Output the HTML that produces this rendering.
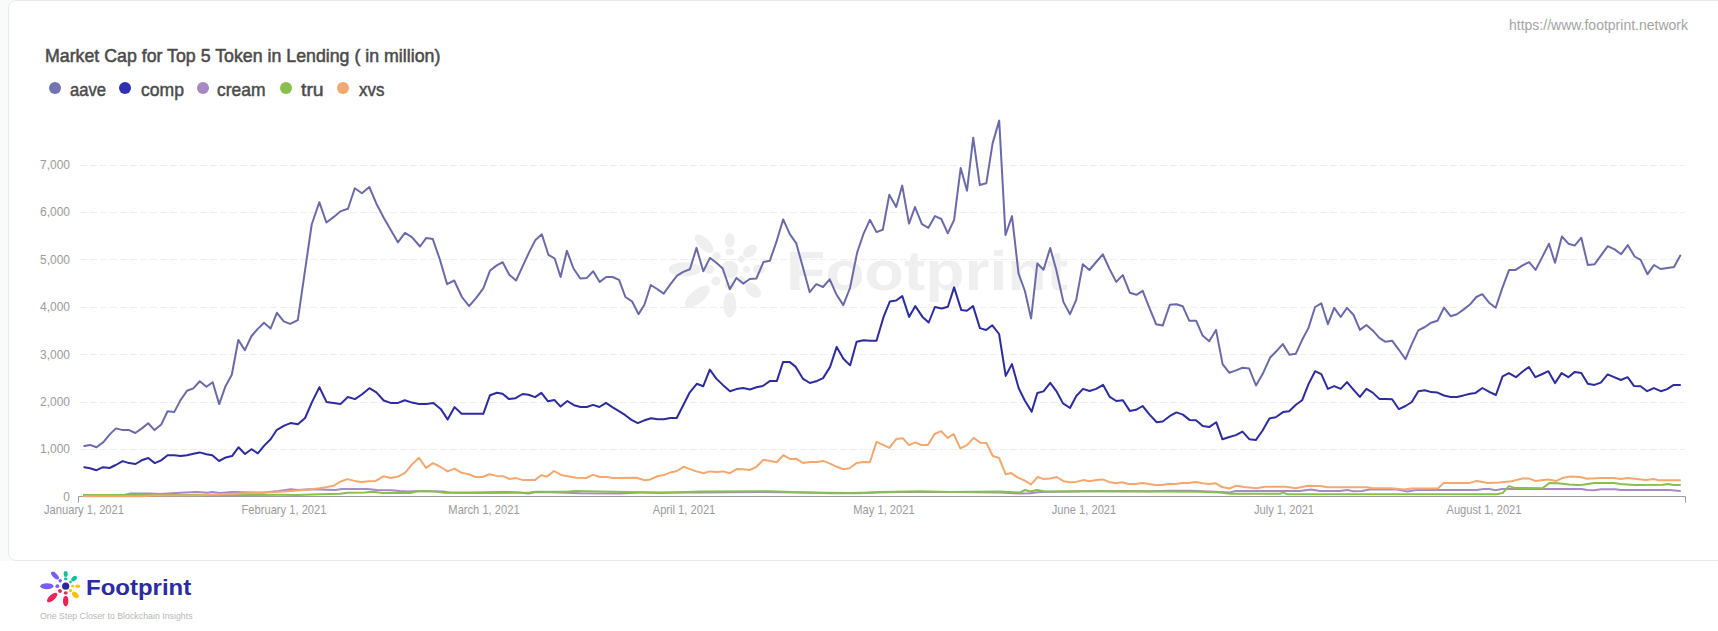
<!DOCTYPE html>
<html><head><meta charset="utf-8">
<style>
*{margin:0;padding:0;box-sizing:border-box}
html,body{width:1718px;height:631px;overflow:hidden;background:#fff;font-family:"Liberation Sans",sans-serif}
.bg{position:absolute;left:0;top:0;width:1718px;height:561px;background:#f9fbfb}
.card{position:absolute;left:8px;top:0;width:1730px;height:561px;border:1px solid #e9ebeb;border-radius:8px;background:#fff}
.url{position:absolute;left:1509px;top:17.2px;font-size:14px;color:#a4a4a4;white-space:nowrap;line-height:16px}
.title{position:absolute;left:44.6px;top:45.2px;font-size:19px;color:#4b4b4b;white-space:nowrap;line-height:22px;-webkit-text-stroke:0.55px #4b4b4b;transform:scaleX(0.935);transform-origin:0 0}
.leg{position:absolute;top:79.8px;font-size:19px;color:#4b4b4b;white-space:nowrap;line-height:20px;-webkit-text-stroke:0.5px #4b4b4b;transform-origin:0 0}
.dot{position:absolute;top:82px;width:12px;height:12px;border-radius:50%}
svg{position:absolute;left:0;top:0}
.foot{position:absolute;left:86px;top:575px;font-size:22px;font-weight:bold;color:#2b2ba3;white-space:nowrap;line-height:26px;transform:scaleX(1.09);transform-origin:0 0}
.tag{position:absolute;left:40px;top:611px;font-size:8.8px;color:#b8b8b8;white-space:nowrap;line-height:10px}
</style></head><body>
<div class="bg"></div>
<div class="card"></div>
<div class="url">https://www.footprint.network</div>
<div class="title">Market Cap for Top 5 Token in Lending ( in million)</div>
<div class="dot" style="left:48.7px;background:#7373b3"></div><div class="leg" style="left:69.8px;transform:scaleX(0.874)">aave</div>
<div class="dot" style="left:119.4px;background:#3030b0"></div><div class="leg" style="left:140.5px;transform:scaleX(0.925)">comp</div>
<div class="dot" style="left:196.9px;background:#a989c5"></div><div class="leg" style="left:217.4px;transform:scaleX(0.92)">cream</div>
<div class="dot" style="left:279.5px;background:#88bf4d"></div><div class="leg" style="left:300.6px;transform:scaleX(1.02)">tru</div>
<div class="dot" style="left:337.4px;background:#f2a86f"></div><div class="leg" style="left:358.6px;transform:scaleX(0.89)">xvs</div>
<svg width="1718" height="631" viewBox="0 0 1718 631">
<defs>
<g id="pt"><g transform="rotate(0)"><ellipse cx="0" cy="-12.1" rx="2.05" ry="3.0"/><ellipse cx="0" cy="-7.3" rx="1.8" ry="1.4"/></g><g transform="rotate(48)"><ellipse cx="0" cy="-11.3" rx="2.2" ry="3.3"/><ellipse cx="0" cy="-6.4" rx="1.4" ry="1.4"/></g></g>
<g id="py"><g transform="rotate(90)"><ellipse cx="0" cy="-12.1" rx="1.8" ry="2.4"/><ellipse cx="0" cy="-7.0" rx="1.4" ry="1.4"/></g><g transform="rotate(132)"><ellipse cx="0" cy="-13.0" rx="2.5" ry="3.9"/><ellipse cx="0" cy="-6.5" rx="1.6" ry="1.6"/></g></g>
<g id="pr"><g transform="rotate(180)"><ellipse cx="0" cy="-14.8" rx="2.7" ry="5.2"/><ellipse cx="0" cy="-6.7" rx="2.0" ry="1.6"/></g><g transform="rotate(230)"><ellipse cx="0" cy="-17.6" rx="2.8" ry="6.4"/><ellipse cx="0" cy="-7.5" rx="1.9" ry="1.9"/></g></g>
<g id="pp"><g transform="rotate(270)"><ellipse cx="0" cy="-18.8" rx="3.0" ry="6.6"/><ellipse cx="0" cy="-8.4" rx="1.9" ry="1.9"/></g><g transform="rotate(315)"><ellipse cx="0" cy="-15.1" rx="2.3" ry="5.0"/><ellipse cx="0" cy="-7.8" rx="1.7" ry="1.7"/></g></g>
<g id="flower"><use href="#pt"/><use href="#py"/><use href="#pr"/><use href="#pp"/><circle cx="0" cy="0" r="3.6"/></g>
</defs>
<!-- watermark -->
<g fill="#efefef"><use href="#flower" transform="translate(729.8 269.4) scale(2.4)"/></g>
<text x="786" y="290.3" font-size="55" font-weight="bold" fill="#efefef" font-family="Liberation Sans" textLength="282" lengthAdjust="spacingAndGlyphs">Footprint</text>
<g stroke="#eeeeee" stroke-width="1" stroke-dasharray="7 3"><line x1="80" y1="449.5" x2="1685" y2="449.5"/><line x1="80" y1="402.5" x2="1685" y2="402.5"/><line x1="80" y1="354.5" x2="1685" y2="354.5"/><line x1="80" y1="307.5" x2="1685" y2="307.5"/><line x1="80" y1="259.5" x2="1685" y2="259.5"/><line x1="80" y1="212.5" x2="1685" y2="212.5"/><line x1="80" y1="165.5" x2="1685" y2="165.5"/></g>
<g font-size="12" fill="#9b9b9b" text-anchor="end" font-family="Liberation Sans"><text x="70" y="500.8">0</text><text x="70" y="453.4">1,000</text><text x="70" y="406.0">2,000</text><text x="70" y="358.5">3,000</text><text x="70" y="311.1">4,000</text><text x="70" y="263.7">5,000</text><text x="70" y="216.3">6,000</text><text x="70" y="168.9">7,000</text></g>
<g font-size="12" fill="#9b9b9b" text-anchor="middle" font-family="Liberation Sans"><text x="84" y="514.5" transform="translate(84 0) scale(0.93 1) translate(-84 0)">January 1, 2021</text><text x="284" y="514.5" transform="translate(284 0) scale(0.93 1) translate(-284 0)">February 1, 2021</text><text x="484" y="514.5" transform="translate(484 0) scale(0.93 1) translate(-484 0)">March 1, 2021</text><text x="684" y="514.5" transform="translate(684 0) scale(0.93 1) translate(-684 0)">April 1, 2021</text><text x="884" y="514.5" transform="translate(884 0) scale(0.93 1) translate(-884 0)">May 1, 2021</text><text x="1084" y="514.5" transform="translate(1084 0) scale(0.93 1) translate(-1084 0)">June 1, 2021</text><text x="1284" y="514.5" transform="translate(1284 0) scale(0.93 1) translate(-1284 0)">July 1, 2021</text><text x="1484" y="514.5" transform="translate(1484 0) scale(0.93 1) translate(-1484 0)">August 1, 2021</text></g>
<path d="M78.5 502.5V496.5H1685.5V502.5" fill="none" stroke="#999" stroke-width="1"/>
<g fill="none" stroke-width="2" stroke-linejoin="round" stroke-linecap="round">
<polyline stroke="#6a6aa8" points="84.3,446.1 90.0,444.9 96.5,447.2 103.4,442.1 110.0,434.1 115.9,428.4 122.8,430.1 129.1,430.1 135.3,433.0 141.9,428.4 148.2,423.3 154.5,430.1 161.3,424.4 167.6,411.3 174.2,412.1 180.4,400.4 187.0,390.7 193.3,388.4 199.8,381.3 206.4,386.7 212.7,382.2 219.2,404.1 225.5,386.2 231.8,374.8 238.3,339.9 244.9,350.2 251.2,336.5 257.5,329.1 264.0,322.8 270.6,328.5 276.9,312.8 283.8,321.4 290.1,323.9 297.8,320.1 311.7,224.5 319.3,202.2 326.4,222.5 333.8,216.9 340.9,211.1 348,208.8 354.8,188.3 361.9,193.3 369.3,187 376.4,203.7 384,218.2 390.8,230.1 397.9,242.3 405,232.9 411.9,237.2 420,246.5 426.3,237.9 432.8,239.1 440,259.9 447.1,284.2 454.2,280.5 461.9,297 469.1,306.1 476.2,297.9 483.3,288.4 489.9,270.8 496.4,265.6 502.7,262.2 509.3,274.8 516.1,280.5 522.7,266.2 529.3,251.9 535.5,239.9 541.8,234.2 548.4,254.8 554.7,258.5 560.6,277 566.9,250.8 573.5,268.5 580.3,278.5 586.9,277.9 593.2,271.3 599.7,281.9 606.3,277 612.6,277 619.1,279.9 625.4,297 632,301.3 638.5,314.1 644.3,305 650.8,285 657.1,289 663.7,293.6 670.5,284.2 677.1,275.6 683.3,271.9 689.9,269.3 696.5,247.9 703.3,271.3 709.9,257.9 716.4,262.8 722.7,268.5 729.8,289.3 736.4,277.9 743.3,283.6 749.8,279 756.4,278.5 763.5,261.9 769.8,260.8 776.3,242.2 783.2,219.4 789.8,234.2 796.3,243.4 803.2,268.5 809.7,292.2 816.3,284.2 823.1,287 829.7,279.3 836.3,294.2 843.3,305.1 850,288 857.1,252.7 863.7,233.3 869.9,219.8 876.5,232.1 882.8,229.8 889.3,194.7 896.2,207 902.2,185.6 909,223.6 915,207 921.9,224.1 928.4,227.8 935,216.1 941.3,219 947.8,233.3 954.1,219.8 960.7,167.9 967,190.7 973.2,137.7 979.8,185 986.3,183.3 992.6,143.4 999.2,120.6 1005.5,235 1012,216.1 1018.5,273.3 1024.9,291 1031.1,318.5 1037.3,263.5 1043.5,269.7 1050.2,248 1056.3,270 1063.4,301.9 1070,314.2 1076.2,299.9 1082.8,264.2 1089.4,270 1096.2,262 1102.8,254.3 1109.3,268.5 1116.2,281.9 1122.8,275.1 1129.9,292.8 1136.4,294.8 1142.7,290.8 1149.3,307.6 1156.1,324.2 1162.7,325.6 1169.8,304.8 1176.4,304.2 1182.7,306.2 1189.2,320.7 1196.1,320.7 1202.6,335.6 1209.2,341.3 1216,329.9 1222.6,364.1 1229.2,372.7 1236,370.4 1242.6,367.8 1249.1,368.4 1256,385.5 1262.6,374.1 1270,357.8 1276.3,351.3 1282.8,344.1 1289.4,354.7 1295.7,353.8 1302.2,339.8 1308.5,327.9 1315.1,307 1321.3,303.3 1327.9,324.2 1334.2,307.9 1340.7,317 1347,307.9 1353.6,315 1359.9,329.9 1366.4,325 1372.7,330.4 1379.3,337.8 1385.5,341.8 1392.1,340.7 1398.9,349.8 1405.5,359.2 1411.8,344.1 1418.3,330.4 1424.9,327 1431.2,322.7 1437.5,320.7 1444,307.6 1450.6,316.2 1456.9,314.2 1463.1,309.9 1469.7,304.8 1476.3,297 1482.3,294.2 1489.1,302.7 1495.7,307.8 1502.2,288.4 1509.1,269.9 1515.6,269.9 1522.2,265.6 1529.1,262.2 1535.6,269.9 1542.2,257.1 1549,243.7 1555,262.8 1561.9,236.5 1568.4,243.7 1574.7,245.6 1581.3,237.7 1587.8,265 1594.7,264.2 1601.2,255.1 1607.8,246.2 1614.6,249.4 1621.2,254.2 1627.8,245.1 1634.6,256.5 1640.6,259.9 1647.5,274.2 1654,265 1660.6,269 1667.4,267.9 1674,267 1680.3,255.6"/>
<polyline stroke="#2c2c9e" points="84.3,467.2 90,468.3 96.5,470.2 103,467.2 109.5,468 115.8,465 122.7,461.1 129,463.1 135.5,464 141.7,460.3 148.2,458 154.8,463.1 161.1,460.4 167.6,455.2 174.3,455.2 180.5,456.1 187,455.3 193.4,453.7 199.7,452.4 206.4,454.2 212.3,455.3 219.1,461 225.8,457.4 232,456.1 238.5,447.3 245,454 251.4,449.2 257.8,453.3 264.2,445.6 270.6,439.2 276.9,429.8 284.2,425.7 290.5,423.1 297.9,424.3 305.1,418 312.1,401.9 319.4,387.2 326.5,401.9 333.5,402.9 340.5,404.1 347.8,397 355,399.1 362.1,394.2 369.4,388.2 376.4,392.4 383.7,400.5 390.6,402.9 398,402.9 404.8,400.2 412,402.6 419,404 426.3,404 433.4,402.9 440.7,408.9 447.6,419.4 454.6,407.1 461.6,413.8 468.9,413.8 476,413.8 483.3,413.8 490,395.2 497,392.8 502.5,393.8 509.1,399.1 515.6,398.2 522.6,394 528.6,394.7 535.1,397.1 541.4,392.9 548,401.3 554.4,399.9 560.6,406.6 567.3,401 574,405.2 580.5,407 586.8,407 593.1,404.9 599.4,407 606,402.8 612.7,407.3 619,411.2 625.3,415.2 631.5,419.9 637.8,423.1 644.4,420.3 651.1,418.2 657.7,419.2 663.7,419.2 670.4,418 676.7,418 683.2,405.2 689.8,392.3 696.8,383.8 703.2,386.3 709.8,369.6 716.3,378.6 722.8,384.9 730,391.2 736.3,389.1 743.2,388.1 749.9,389.5 756.5,387.2 762.8,386 769.8,381.1 776.8,381.1 783.1,361.9 789.5,361.9 795.8,366.9 802.8,378.6 809.8,383 816.1,381.3 823.1,378.1 830.1,366.9 836.7,346.9 843.4,358.7 850.1,365.4 856.6,341.8 863.5,340.2 870.3,340.8 876.5,340.8 883.6,316.9 889.9,301.4 896.1,300.5 902.3,296.1 909.1,316.9 915.3,306.1 922.5,316.9 928.7,322.5 934.9,307 941.7,308.5 947.9,306.7 954.1,287.4 961.3,310.1 966.8,310.7 973.1,306.1 979.9,328.1 986.1,330 992.3,325.3 999.1,334 1005.7,375.9 1011.9,364.1 1018.7,388.3 1024.9,400.8 1031.7,411.6 1037.3,393 1043.5,391.4 1050.2,382.8 1056.2,390.8 1063,403.4 1070,408 1076.3,396 1083,388.9 1089.5,391 1096.2,388.9 1103,384.8 1109.8,396.9 1116.3,401 1122.9,400.3 1129.8,410.9 1136,409.8 1142.6,406 1149.6,414.6 1156.7,422.2 1162.7,421.5 1169.6,416.2 1176.4,412.4 1182.9,414.6 1189.5,419.9 1196,420.2 1202.8,426 1209.2,427.1 1216.2,422.2 1222.5,439.3 1229.3,437 1235.8,435.1 1242.5,431.6 1249.5,439.3 1255.8,440.1 1262.6,430.5 1269.4,418.4 1275.8,417.2 1283,412.1 1289.1,411.2 1295.9,404.8 1302.1,400.3 1308.5,384.1 1315.1,371.2 1321.3,374.1 1327.9,388.9 1334.2,386.1 1340.7,388.9 1347,382.1 1353.6,389.8 1359.9,396.9 1366.4,388.9 1372.7,392.6 1379.3,398.9 1385.5,398.9 1392.1,399.2 1398.9,409.2 1405.5,406 1411.8,402 1418.3,391.2 1424.9,390.3 1431.2,392.1 1437.5,392.6 1444,395.5 1450.6,396.9 1456.9,396.9 1463.5,395.4 1470.2,393.7 1475.6,392.9 1482.4,388 1489.3,391.9 1495.9,395 1502.6,376.3 1508.9,373.1 1515.9,377.2 1522.4,371.7 1528.9,367 1535.4,377.2 1542.4,374 1548.4,371.2 1555,383.1 1561.6,373.1 1568.3,377.2 1574.8,371.9 1581.3,373.1 1587.8,383.8 1594.4,384.9 1600.8,382.6 1607.7,374.4 1614.1,377.2 1620.9,380 1627.6,377.2 1633.9,385.9 1640.6,386.3 1647.2,391.2 1653.8,388.1 1660.8,391.2 1667.2,389.1 1673.7,384.9 1680,384.9"/>
<polyline stroke="#a989c5" points="84,495 124,495 130,493.6 150,493.4 160,494 180.6,492.8 196,492 208,492.8 212,492.1 220,493 232.3,492 253.2,492.4 262,492.8 278.4,491 291,489.2 298,489.9 309,489.2 320,489.6 335,490 342.1,488.9 367.3,488.9 377,490 391,490.3 400,491 407.8,491.4 419,491 442.7,491.4 450,492.4 470.7,492.4 505.6,492 519,492.4 528,493.4 536,492 560,492.5 580,493.3 620,493.5 640,492.5 700,492.5 760,492 800,492.5 850,493 900,492 960,492 1000,492.5 1020,493.5 1030,493.3 1040,492 1100,491 1150,491.3 1170,490.8 1190,490.8 1210,491.5 1230,492.4 1235.6,491 1300,491 1311,489.6 1320,491 1340,491 1347.4,489.9 1353,491.2 1362,491 1369.7,489.6 1397,489.6 1407.4,491.4 1416,489.9 1476.8,489.9 1483.7,488.9 1489.3,488.9 1495.6,490.3 1501.9,488.9 1581.5,488.9 1587.1,489.9 1594.1,490.3 1601.1,489.2 1615.1,489.2 1620.7,490 1669.6,490 1680,491"/>
<polyline stroke="#88bf4d" points="84,494.9 250,495.1 280,494.8 296.5,494.9 320,494.2 340,493.8 347.7,492.8 365,492.4 372.9,491.7 382.6,493.1 410,493 419,491 436,491.4 444.1,492.8 478,493.1 530,492.5 536.3,491.7 567,491.8 575,491 600,491.5 640,492.3 660,493 700,491.5 770,491.3 800,492.3 830,493.3 860,493.3 880,492 920,491.2 950,492 1000,491.5 1020,492.5 1025,490 1030,491.5 1037,490 1045,491.5 1100,491.3 1200,491.8 1220,492.5 1230,493.8 1280,493.8 1283,492.4 1287,494.2 1496.3,494.2 1502.6,493.1 1508.9,486.1 1514.5,487.9 1542.4,488.2 1549.4,483 1557.8,483.3 1569,484.4 1577.4,485 1582.9,484.7 1594.1,483 1613.7,483 1620.7,484 1634.6,485 1662.6,484.7 1668.2,484 1673.7,485 1680,485"/>
<polyline stroke="#f2a86f" points="84,496.2 143,496.2 152,495.4 200,495.2 254.6,492.8 275.6,492 291,491 309.1,489.6 319.8,488.2 326.8,487.1 333.7,485.7 340.7,481.5 347.4,479.1 354.4,480.9 361.7,481.9 368.7,481.2 375.7,480.9 383.3,476.3 390.7,478 398,476.6 405,472.8 412,464.4 419,457.7 426,467.9 432.9,463.1 439.9,466.5 447.6,471.4 454.6,468.6 461.6,472.8 468.6,474.2 475.5,477 482.5,477 489.5,474.2 496.5,475.9 503.5,476.3 509.8,479.1 516.1,478.1 523,480.1 534.9,480.1 541.2,475.2 547,476.6 554,471 561,474.9 567.9,476.3 576.3,477.7 586.1,478.1 592.8,474.9 600.1,477 607.1,477 612.6,478 636.4,477.7 644.8,480.2 650.4,479.4 658,476 664.3,474.9 670.6,472.4 676.9,471 683.6,466.8 690.2,469.1 696.5,471.4 703.5,473.2 709.7,471.4 716.7,472.1 723,471.4 730,473.2 737,468.9 743.3,469.3 749.6,470 756.5,466.8 763.5,459.8 770.3,461 776.7,462.2 783.3,455.2 790.3,459.1 796.5,458.8 803.1,463 809.8,461.9 816.8,461.9 823.1,460.9 830.1,463.6 836.8,466.8 843.3,469.2 849.6,468.2 856.6,463 863.6,461.9 869.9,462.3 876.5,441.9 883.2,444.9 889.4,447.9 896.4,438.9 902.7,438.2 909,445.1 915.3,442.4 921.6,445.1 927.9,445.1 934.6,434 941.1,431.2 947.7,437.9 953.7,434 960.3,448.4 967,445.1 973.7,437.9 980.3,442.8 986.5,443.1 992.8,456 999.1,458 1005.7,474.3 1011.2,473.1 1017.5,477.4 1023.8,480.2 1031,484.4 1037.7,477 1044,479.1 1050.3,478.4 1056.6,477 1063.6,481.2 1069.9,482.2 1076.1,481.9 1083.1,480.1 1089.4,481.2 1096.4,480.1 1102.7,479.4 1109,481.9 1116,483.3 1122.2,482.2 1128.5,484 1135.5,484 1142.5,482.9 1148.8,484 1155.1,485 1162.1,485 1168.3,484 1175.3,484 1182.3,482.9 1188.6,482.9 1195.6,481.9 1202.6,483.3 1208.9,484 1215.8,483.3 1222.1,487.1 1229.1,488.5 1236.3,485.8 1244,487 1256.5,488.2 1265,486.8 1285.9,486.8 1295.7,488.2 1308.2,485.8 1320,486 1327.8,487.2 1366.9,487.2 1372.5,488.2 1390.7,488.2 1404.6,489.6 1411.6,488.6 1438.2,488.2 1443.7,482.9 1469.8,482.9 1476.8,480.9 1487.9,482.9 1499.1,482.6 1511.7,481.2 1522.9,478.4 1528.5,478.4 1535.4,480.9 1548,479.5 1556.4,480.9 1563.4,477.7 1570.4,476.6 1580.1,477 1587.1,478.8 1601.1,478 1613.7,478.1 1620.7,479.1 1627.6,478 1645.8,480.1 1654.2,479.1 1658.4,480.2 1680,480.2"/>
</g>
<!-- footer logo -->
<g transform="translate(65.7 586.2)">
 <use href="#pt" fill="#13c1a0"/><use href="#py" fill="#f3c20c"/><use href="#pr" fill="#ee2455"/><use href="#pp" fill="#7c5cf7"/>
 <circle cx="0" cy="0" r="3.6" fill="#28289a"/>
</g>
</svg>
<div class="foot">Footprint</div>
<div class="tag">One Step Closer to Blockchain Insights</div>
</body></html>
